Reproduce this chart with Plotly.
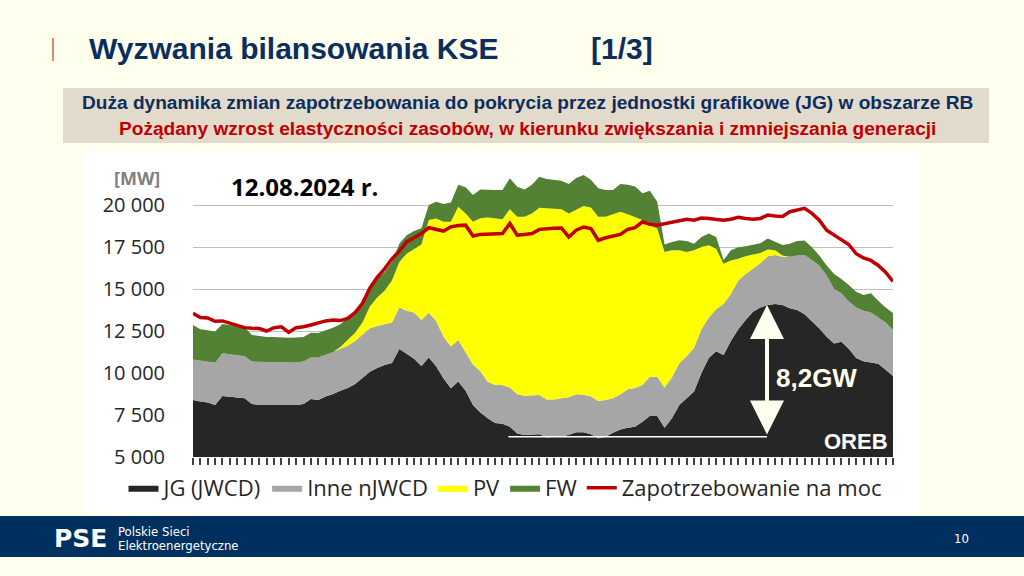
import plotly.graph_objects as go

W, H = 1024, 576          # target picture size (all layout positions below are given in this frame)
FIG_H = 589               # rendered page height that ends up shown as 576 px

# ---------------- data (MW), 96 quarter-hours of 12.08.2024 ----------------
jg = [8400, 8300, 8250, 8100, 8630, 8580, 8550, 8500, 8150, 8100, 8100, 8100, 8100, 8080, 8100, 8150,
      8450, 8400, 8600, 8750, 8950, 9100, 9350, 9700, 10080, 10300, 10480, 10600, 11430, 11150, 10850, 10420,
      10930, 10400, 9680, 9090, 9500, 8950, 8100, 7650, 7300, 7030, 6980, 6800, 6400, 6310, 6320, 6350,
      6170, 6170, 6200, 6320, 6480, 6470, 6350, 6110, 6200, 6450, 6640, 6740, 6800, 7100, 7440, 7440,
      6740, 7300, 8100, 8500, 8900, 10000, 10900, 11300, 11070, 11900, 12600, 13150, 13650, 13900, 14050, 14100,
      14050, 13850, 13750, 13500, 13100, 12650, 12160, 11760, 11860, 11450, 10900, 10700, 10620, 10550, 10200, 9820]
inne = [2410, 2450, 2450, 2510, 2540, 2520, 2500, 2500, 2530, 2550, 2550, 2540, 2520, 2520, 2520, 2530,
        2480, 2530, 2500, 2500, 2500, 2520, 2550, 2600, 2580, 2500, 2420, 2400, 2470, 2550, 2750, 2730,
        2660, 2700, 2480, 2480, 2460, 2250, 2400, 2450, 2180, 2260, 2300, 2340, 2330, 2340, 2350, 2340,
        2260, 2260, 2300, 2240, 2250, 2240, 2250, 2220, 2200, 2050, 2090, 2290, 2300, 2190, 2340, 2340,
        2400, 2450, 2480, 2500, 2600, 2600, 2400, 2500, 3030, 2800, 2900, 2750, 2550, 2630, 2900, 2930,
        2870, 3070, 3250, 3530, 3630, 3750, 3640, 3240, 2880, 2800, 3000, 3000, 2980, 2750, 2800, 2740]
pv = [0, 0, 0, 0, 0, 0, 0, 0, 0, 0, 0, 0, 0, 0, 0, 0,
      0, 0, 0, 0, 100, 380, 500, 700, 1300, 1700, 2000, 2500, 2700, 3400, 3800, 4500,
      5510, 6100, 6840, 7430, 7940, 8300, 8510, 9110, 9770, 9910, 9870, 10600, 10570, 10650, 10830, 11150,
      11370, 11330, 11240, 10940, 10970, 11230, 11250, 10970, 10900, 10950, 10870, 10420, 10200, 9820, 9030, 8820,
      8060, 7550, 6720, 6200, 5800, 4900, 4300, 3600, 2400, 2000, 1300, 1050, 850, 620, 400, 270,
      80, 0, 0, 0, 0, 0, 0, 0, 0, 0, 0, 0, 0, 0, 0, 0]
fw = [2050, 1850, 1850, 1860, 1750, 1750, 1750, 1720, 1580, 1550, 1500, 1510, 1500, 1500, 1500, 1470,
      1470, 1450, 1450, 1450, 1350, 1250, 1250, 1200, 1180, 1100, 1100, 1100, 1100, 1100, 1050, 960,
      900, 1000, 1060, 1150, 1300, 1550, 1590, 1720, 1650, 1690, 1750, 1850, 1790, 1630, 1700, 1840,
      1750, 1740, 1710, 1750, 1900, 1850, 1650, 1700, 1590, 1450, 1650, 1750, 1800, 1590, 2040, 1600,
      450, 500, 600, 650, 400, 600, 700, 700, 230, 600, 680, 600, 570, 570, 650, 500,
      620, 780, 850, 850, 750, 600, 600, 900, 860, 990, 940, 950, 1140, 1000, 900, 1010]
demand = [13550, 13300, 13280, 13080, 13100, 12950, 12820, 12700, 12660, 12650, 12500, 12700, 12750, 12420, 12700, 12750,
          12860, 12990, 13100, 13150, 13120, 13250, 13600, 14150, 15050, 15700, 16200, 16800, 17250, 17800, 18050, 18300,
          18650, 18550, 18450, 18700, 18780, 18800, 18150, 18250, 18280, 18260, 18300, 18900, 18200, 18250, 18300, 18550,
          18600, 18620, 18630, 18100, 18500, 18690, 18600, 17900, 18050, 18150, 18250, 18550, 18650, 19000, 18850, 18800,
          18900, 19000, 19100, 19150, 19100, 19220, 19200, 19150, 19100, 19150, 19270, 19200, 19150, 19200, 19400, 19350,
          19320, 19600, 19700, 19800, 19500, 19100, 18500, 18200, 17950, 17650, 17100, 16850, 16700, 16400, 16000, 15450]
periods = list(range(1, 97))

y_ticks = [5000, 7500, 10000, 12500, 15000, 17500, 20000]
y_tick_text = ["5 000", "7 500", "10 000", "12 500", "15 000", "17 500", "20 000"]

names = ["JG (JWCD)", "Inne nJWCD", "PV", "FW", "Zapotrzebowanie na moc"]
colors = ["#262626", "#A6A6A6", "#FFFF00", "#548235", "#C00000"]


def px(x):
    return x / W


def py(y):
    return 1 - y / H


CHART_FONT = "'Open Sans', Lato, sans-serif"
ARIAL = "'Liberation Sans', Arial, sans-serif"
NARROW = "'Liberation Sans Narrow', 'Arial Narrow', 'DejaVu Sans Condensed', sans-serif"

fig = go.Figure()
for name, vals, col in zip(names[:4], [jg, inne, pv, fw], colors[:4]):
    fig.add_trace(go.Scatter(x=periods, y=vals, name=name, stackgroup="s", mode="lines",
                             line=dict(width=0, color=col), fillcolor=col))
fig.add_trace(go.Scatter(x=periods, y=demand, name=names[4], mode="lines",
                         line=dict(color=colors[4], width=3.5)))

shapes = [
    dict(type="rect", xref="paper", yref="paper", x0=px(83), x1=px(921), y0=py(513), y1=py(150),
         fillcolor="white", line=dict(width=0), layer="below"),
    dict(type="rect", xref="paper", yref="paper", x0=px(63), x1=px(989), y0=py(143), y1=py(88),
         fillcolor="#E2DACB", line=dict(width=0), layer="below"),
    dict(type="rect", xref="paper", yref="paper", x0=0, x1=1, y0=py(557), y1=py(516),
         fillcolor="#00305F", line=dict(width=0), layer="below"),
    dict(type="line", xref="paper", yref="paper", x0=px(53), x1=px(53), y0=py(61), y1=py(38),
         line=dict(color="#D9603B", width=1.5)),
    dict(type="line", xref="x", yref="y", x0=43.8, x1=78.9, y0=6200, y1=6200,
         line=dict(color="#FFFFF0", width=1.5), layer="above"),
]

annotations = [
    dict(text="<b>Wyzwania bilansowania KSE</b>", x=px(87), y=py(49), xref="paper", yref="paper",
         xanchor="left", yanchor="middle", showarrow=False,
         font=dict(family=ARIAL, size=30, color="#0B2E5E")),
    dict(text="<b>[1/3]</b>", x=px(589), y=py(49), xref="paper", yref="paper",
         xanchor="left", yanchor="middle", showarrow=False,
         font=dict(family=ARIAL, size=30, color="#0B2E5E")),
    dict(text="<b>Duża dynamika zmian zapotrzebowania do pokrycia przez jednostki grafikowe (JG) w obszarze RB</b>",
         x=px(527), y=py(103), xref="paper", yref="paper", xanchor="center", yanchor="middle",
         showarrow=False, font=dict(family=ARIAL, size=19.1, color="#0B2E5E")),
    dict(text="<b>Pożądany wzrost elastyczności zasobów, w kierunku zwiększania i zmniejszania generacji</b>",
         x=px(527), y=py(128), xref="paper", yref="paper", xanchor="center", yanchor="middle",
         showarrow=False, font=dict(family=ARIAL, size=19.1, color="#C00000")),
    dict(text="<b>[MW]</b>", x=px(137), y=py(178.5), xref="paper", yref="paper", xanchor="center",
         yanchor="middle", showarrow=False, font=dict(family=CHART_FONT, size=18, color="#7F7F7F")),
    dict(text="<b>12.08.2024 r.</b>", x=px(229), y=py(186), xref="paper", yref="paper", xanchor="left",
         yanchor="middle", showarrow=False, font=dict(family=CHART_FONT, size=24, color="#000000")),
    dict(x=78.9, y=14050, ax=78.9, ay=6250, xref="x", yref="y", axref="x", ayref="y", text="",
         showarrow=True, arrowhead=2, startarrowhead=2, arrowside="end+start", arrowsize=1.7,
         startarrowsize=1.7, arrowwidth=4, arrowcolor="#FFFFF0"),
    dict(text="<b>8,2GW</b>", x=px(774), y=py(378), xref="paper", yref="paper", xanchor="left",
         yanchor="middle", showarrow=False, font=dict(family=ARIAL, size=26, color="#FFFFF0")),
    dict(text="<b>OREB</b>", x=px(890), y=py(441), xref="paper", yref="paper", xanchor="right",
         yanchor="middle", showarrow=False, font=dict(family=ARIAL, size=22, color="#FFFFFF")),
    dict(text="<b>PSE</b>", x=px(52), y=py(538), xref="paper", yref="paper", xanchor="left",
         yanchor="middle", showarrow=False, font=dict(family="DejaVu Sans, sans-serif", size=25, color="#FFFFFF")),
    dict(text="Polskie Sieci", x=px(116), y=py(531), xref="paper", yref="paper",
         xanchor="left", yanchor="middle", showarrow=False,
         font=dict(family=NARROW, size=13, color="#FFFFFF")),
    dict(text="Elektroenergetyczne", x=px(116), y=py(545), xref="paper", yref="paper",
         xanchor="left", yanchor="middle", showarrow=False,
         font=dict(family=NARROW, size=13, color="#FFFFFF")),
    dict(text="10", x=px(961), y=py(538), xref="paper", yref="paper", xanchor="center",
         yanchor="middle", showarrow=False, font=dict(family=NARROW, size=13, color="#FFFFFF")),
]

fig.update_layout(
    width=W, height=FIG_H,
    margin=dict(l=0, r=0, t=0, b=0),
    paper_bgcolor="#FFFFEE",
    plot_bgcolor="rgba(0,0,0,0)",
    font=dict(family=CHART_FONT, color="#262626"),
    shapes=shapes,
    annotations=annotations,
    showlegend=True,
    legend=dict(orientation="h", x=px(505), xanchor="center", y=py(488), yanchor="middle",
                font=dict(family=CHART_FONT, size=22, color="#262626"), traceorder="normal",
                bgcolor="rgba(0,0,0,0)", itemwidth=30, tracegroupgap=0),
    xaxis=dict(domain=[px(193), px(893)], range=[1, 96], showgrid=False, zeroline=False,
               showticklabels=False, ticks="outside", tickmode="linear", tick0=1, dtick=1,
               ticklen=7, tickwidth=1.5, tickcolor="#404040", showline=False),
    yaxis=dict(domain=[py(457), py(171.4)], range=[5000, 22000], tickvals=y_ticks, ticktext=y_tick_text,
               showgrid=True, gridcolor="#BFBFBF", gridwidth=1, zeroline=False, showline=False,
               ticks="", ticklabelstandoff=27, tickfont=dict(family=CHART_FONT, size=20, color="#262626")),
)

fig.write_html("out.html",
               post_script=("document.body.style.margin='0';"
                            "document.body.style.background='#FFFFEE';"
                            "document.documentElement.style.background='#FFFFEE';"))
